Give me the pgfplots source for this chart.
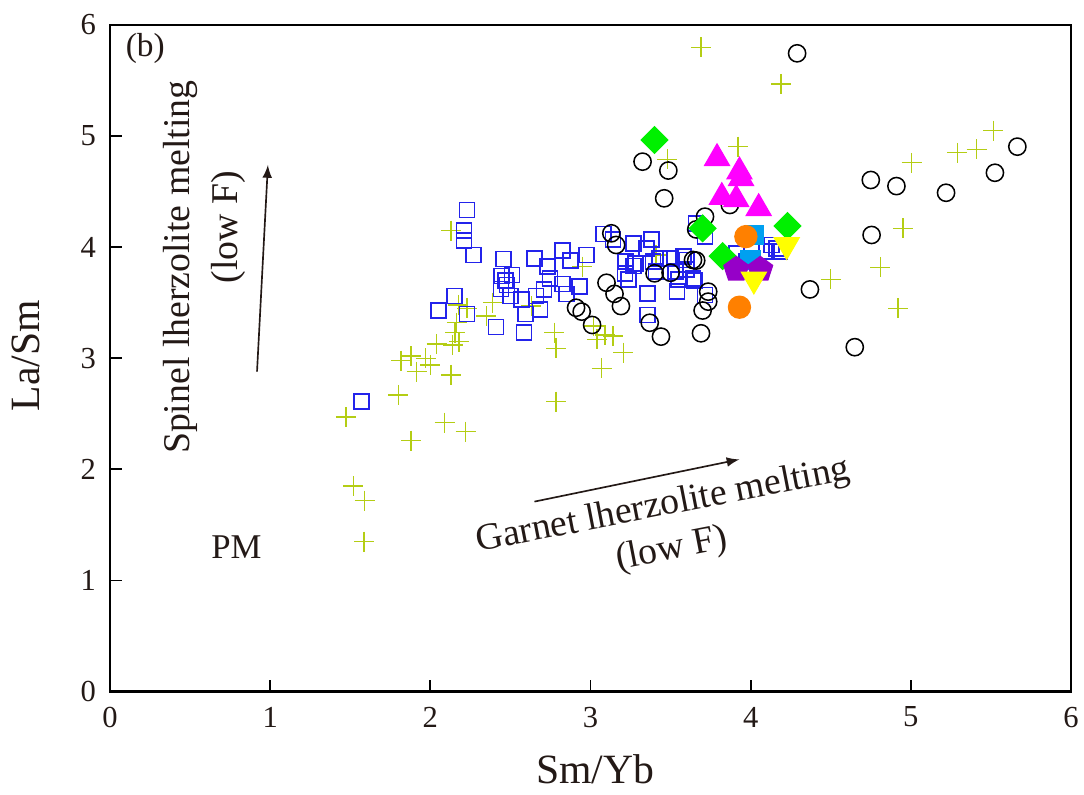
\documentclass[border=0pt]{standalone}
\usepackage{pgfplots}
\pgfplotsset{compat=1.18}
\usepackage{fontspec}
\setmainfont{Liberation Serif}

\definecolor{crossc}{RGB}{180,205,20}
\definecolor{sqblue}{RGB}{35,35,235}
\definecolor{ltblue}{RGB}{0,160,240}
\definecolor{orng}{RGB}{255,128,0}
\definecolor{purp}{RGB}{150,0,200}
\definecolor{magn}{RGB}{255,0,255}
\definecolor{grn}{RGB}{0,240,0}
\definecolor{yell}{RGB}{255,255,0}
\definecolor{txt}{RGB}{35,25,22}

\begin{document}
\begin{tikzpicture}
\useasboundingbox (-39.6pt,-37.08pt) rectangle (350.68pt,249pt);
\begin{axis}[
    at={(0,0)}, anchor=south west,
    scale only axis, width=346pt, height=240pt,
    xmin=0, xmax=6, ymin=0, ymax=6,
    xtick={0,1,2,3,4,5,6}, ytick={0,1,2,3,4,5,6},
    tick align=inside, xtick pos=left, ytick pos=left,
    major tick length=4.3pt,
    axis line style={line width=0.9pt},
    tick style={line width=0.7pt, black},
    ticklabel style={font=\fontsize{11}{13}\selectfont, text=txt},
    xticklabel style={yshift=-2pt},
    yticklabel style={xshift=-1.5pt},
    /pgf/number format/assume math mode=true,
    clip=false,
    only marks,
]
% crosses
\addplot[mark=+, mark size=3.6pt, crossc, mark options={line width=0.5pt}] coordinates {
(1.473,2.47) (1.52,1.85) (1.59,1.72) (1.586,1.35) (1.80,2.67) (1.817,2.98)
(1.88,3.02) (1.88,2.26) (1.915,2.88) (2.00,2.94) (2.04,3.13) (2.09,2.42)
(2.13,2.85) (2.13,4.15) (2.14,3.12) (2.155,3.23) (2.165,3.32) (2.175,3.48)
(2.18,3.15) (1.97,3.00) (2.22,2.34) (2.23,3.45) (2.35,3.38) (2.39,3.50)
(2.63,3.47) (2.775,3.23) (2.785,3.09) (2.785,2.61) (2.95,3.825) (3.02,3.29)
(3.04,3.17) (3.07,2.91) (3.09,3.21) (3.14,3.20) (3.205,3.05) (3.41,3.93)
(3.48,4.79) (3.69,5.80) (3.92,4.905) (4.19,5.47) (4.50,3.71) (4.81,3.82)
(4.92,3.45) (4.95,4.17) (5.005,4.76) (5.29,4.85) (5.41,4.88) (5.515,5.05)
};
% open squares
\addplot[mark=square, mark size=2.7pt, sqblue, mark options={line width=0.55pt}] coordinates {
(1.57,2.61) (2.05,3.43) (2.15,3.56) (2.23,3.40) (2.21,4.15) (2.21,4.06)
(2.23,4.335) (2.27,3.93) (2.41,3.28) (2.44,3.625) (2.445,3.74) (2.456,3.895)
(2.48,3.66) (2.47,3.70) (2.50,3.56) (2.51,3.75) (2.57,3.53) (2.585,3.23)
(2.595,3.40) (2.65,3.90) (2.66,3.56) (2.685,3.44) (2.71,3.62) (2.73,3.825)
(2.747,3.72) (2.826,3.97) (2.826,3.67) (2.85,3.58) (2.876,3.88) (2.93,3.645)
(2.976,3.93) (3.08,4.12) (3.14,4.07) (3.22,3.87) (3.215,3.765) (3.236,3.71)
(3.27,4.035) (3.27,3.83) (3.28,3.855) (3.35,3.99) (3.355,3.585) (3.357,3.39)
(3.38,4.07) (3.39,3.87) (3.41,3.78) (3.43,3.90) (3.50,3.90) (3.53,3.78)
(3.54,3.60) (3.55,3.71) (3.58,3.915) (3.60,3.80) (3.60,3.885) (3.64,3.72)
(3.65,3.70) (3.66,4.215) (3.715,4.095) (3.715,3.57) (3.91,3.945) (3.975,3.87)
(4.10,3.96) (4.13,4.02) (4.16,3.99) (4.18,3.96)
};
% open circles
\addplot[mark=o, mark size=3.1pt, black, mark options={line width=0.55pt}] coordinates {
(2.91,3.455) (2.945,3.42) (3.01,3.30) (3.10,3.68) (3.13,4.125) (3.16,4.02)
(3.15,3.58) (3.19,3.47) (3.325,4.77) (3.37,3.32) (3.40,3.765) (3.44,3.195)
(3.46,4.44) (3.486,4.69) (3.50,3.77) (3.64,3.885) (3.66,3.88) (3.66,4.16)
(3.69,3.225) (3.70,3.43) (3.715,4.275) (3.735,3.60) (3.735,3.51) (3.87,4.38)
(4.29,5.745) (4.37,3.62) (4.65,3.10) (4.75,4.605) (4.755,4.11) (4.91,4.55)
(5.22,4.49) (5.525,4.67) (5.665,4.905)
};
% green diamonds
\addplot[mark=square*, mark size=3.4pt, grn, mark options={rotate=45, draw=grn, fill=grn}] coordinates {
(3.40,4.965) (3.70,4.17) (3.825,3.92) (4.23,4.19)
};
% magenta triangles
\addplot[mark=triangle*, mark size=5.2pt, magn, mark options={draw=magn, fill=magn}] coordinates {
(3.79,4.80) (3.93,4.68) (3.94,4.62) (3.82,4.45) (3.91,4.43) (4.05,4.35)
};
% light blue squares
\addplot[mark=square*, mark size=3.5pt, ltblue, mark options={draw=ltblue, fill=ltblue}] coordinates {
(4.02,4.11) (4.00,3.885)
};
% orange circles
\addplot[mark=*, mark size=4.0pt, orng, mark options={draw=orng, fill=orng}] coordinates {
(3.97,4.095) (3.93,3.46)
};
% purple pentagons
\addplot[mark=pentagon*, mark size=4.7pt, purp, mark options={draw=purp, fill=purp}] coordinates {
(3.91,3.80) (4.06,3.80)
};
% yellow inverted triangles
\addplot[mark=triangle*, mark size=5.2pt, yell, mark options={rotate=180, draw=yell, fill=yell}] coordinates {
(4.225,4.02) (4.02,3.71)
};

% annotations
\node[text=txt, font=\fontsize{12}{14}\selectfont] at (axis cs:0.22,5.79) {(b)};
\node[text=txt, font=\fontsize{13.6}{16}\selectfont, rotate=90] at (axis cs:0.44,3.82) {Spinel lherzolite melting};
\node[text=txt, font=\fontsize{13.6}{16}\selectfont, rotate=90] at (axis cs:0.74,4.18) {(low F)};
\draw[-latex, line width=0.6pt, txt] (axis cs:0.918,2.88) -- (axis cs:0.986,4.74);
\node[text=txt, font=\fontsize{13.6}{16}\selectfont, rotate=11, align=center] at (axis cs:3.48,1.47) {Garnet lherzolite melting\\(low F)};
\draw[-latex, line width=0.6pt, txt] (axis cs:2.65,1.71) -- (axis cs:3.93,2.09);
\node[text=txt, font=\fontsize{12.5}{15}\selectfont] at (axis cs:0.79,1.30) {PM};
\node[text=txt, font=\fontsize{15}{18}\selectfont] at (rel axis cs:0.505,-0.117) {Sm/Yb};
\node[text=txt, font=\fontsize{15}{18}\selectfont, rotate=90] at (rel axis cs:-0.087,0.504) {La/Sm};
\end{axis}
\end{tikzpicture}
\end{document}
